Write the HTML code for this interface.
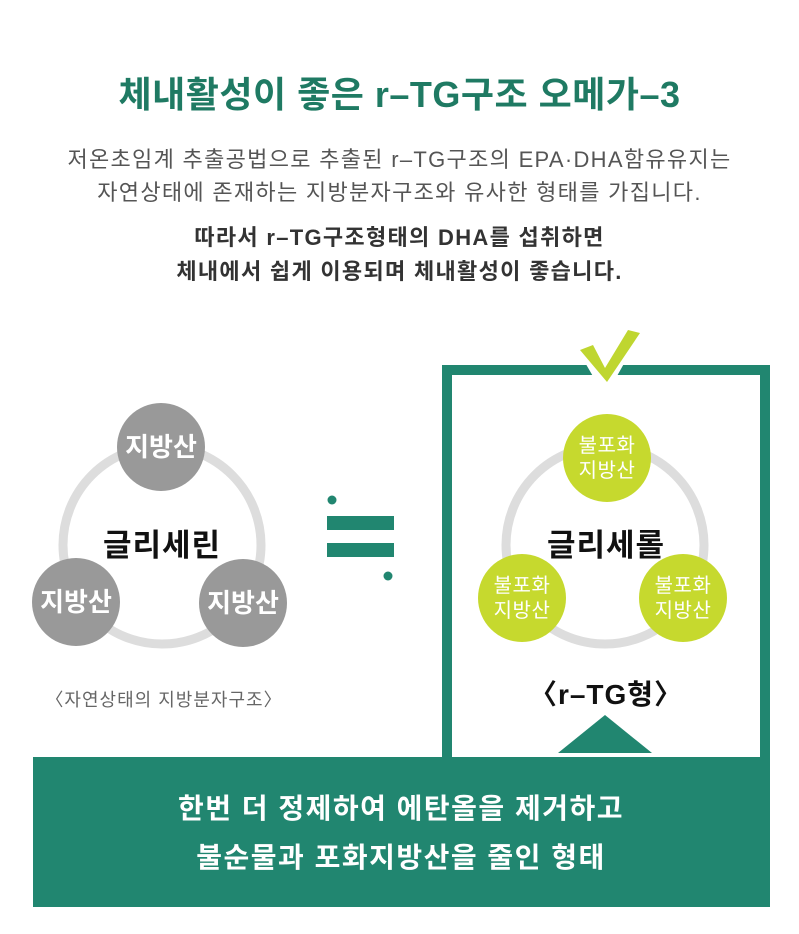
<!DOCTYPE html>
<html><head><meta charset="utf-8"><style>
body{margin:0;width:799px;height:934px;background:#fff;position:relative;overflow:hidden;font-family:"Liberation Sans","Noto Sans CJK KR",sans-serif}
.t{position:absolute;left:0;width:799px;text-align:center;white-space:nowrap}
</style></head><body>
<div class="t" style="top:66px;font-size:36px;font-weight:bold;color:#1f7a63;letter-spacing:0.5px">체내활성이 좋은 r–TG구조 오메가–3</div>
<div class="t" style="top:142px;font-size:22px;color:#555;letter-spacing:1.3px">저온초임계 추출공법으로 추출된 r–TG구조의 EPA·DHA함유유지는</div>
<div class="t" style="top:175px;font-size:22px;color:#555;letter-spacing:1.3px">자연상태에 존재하는 지방분자구조와 유사한 형태를 가집니다.</div>
<div class="t" style="top:220px;font-size:22px;color:#333;font-weight:bold;letter-spacing:1.3px">따라서 r–TG구조형태의 DHA를 섭취하면</div>
<div class="t" style="top:254px;font-size:22px;color:#333;font-weight:bold;letter-spacing:1.3px">체내에서 쉽게 이용되며 체내활성이 좋습니다.</div>
<svg width="799" height="934" style="position:absolute;left:0;top:0" font-family="Liberation Sans, Noto Sans CJK KR, sans-serif">
<circle cx="162" cy="545" r="99" fill="none" stroke="#ddd" stroke-width="9"/>
<circle cx="161" cy="447" r="44" fill="#999"/>
<circle cx="76" cy="602" r="44" fill="#999"/>
<circle cx="243" cy="603" r="44" fill="#999"/>
<g font-size="26" font-weight="bold" fill="#fff" text-anchor="middle">
<text x="161" y="456">지방산</text><text x="76" y="611">지방산</text><text x="243" y="612">지방산</text></g>
<text x="162" y="556" font-size="31" font-weight="bold" text-anchor="middle" fill="#111" letter-spacing="1">글리세린</text>
<text x="164" y="706" font-size="18" text-anchor="middle" fill="#666" letter-spacing="1">〈자연상태의 지방분자구조〉</text>
<circle cx="332" cy="500" r="4.5" fill="#218670"/><circle cx="388" cy="576" r="4.5" fill="#218670"/>
<rect x="327" y="516" width="67" height="14" fill="#218670"/><rect x="327" y="543" width="67" height="14" fill="#218670"/>
<rect x="442" y="365" width="328" height="400" fill="#218670"/>
<rect x="452" y="375" width="308" height="390" fill="#fff"/>
<path d="M572 340 L590 340 L605 365 L625 326 L645 326 L612 385 L598 385 Z" fill="#fff"/>
<path d="M580 350 L593 345 L605 368 L628 330 L640 333 L607 382 Z" fill="#bfd630"/>
<circle cx="605" cy="545" r="99" fill="none" stroke="#ddd" stroke-width="9"/>
<circle cx="607" cy="458" r="44" fill="#c6d92e"/>
<circle cx="522" cy="598" r="44" fill="#c6d92e"/>
<circle cx="683" cy="598" r="44" fill="#c6d92e"/>
<g font-size="20" fill="#fff" text-anchor="middle" letter-spacing="0.5">
<text x="607" y="452">불포화</text><text x="607" y="477">지방산</text>
<text x="522" y="592">불포화</text><text x="522" y="617">지방산</text>
<text x="683" y="592">불포화</text><text x="683" y="617">지방산</text></g>
<text x="606" y="556" font-size="31" font-weight="bold" text-anchor="middle" fill="#111" letter-spacing="1">글리세롤</text>
<text x="606" y="704" font-size="28" font-weight="bold" text-anchor="middle" fill="#111" letter-spacing="1">〈r–TG형〉</text>
<rect x="33" y="757" width="737" height="150" fill="#218670"/>
<path d="M558 753 L605 715 L652 753 Z" fill="#218670"/>
<g font-size="28" font-weight="bold" fill="#fff" text-anchor="middle" letter-spacing="1.5">
<text x="401" y="818">한번 더 정제하여 에탄올을 제거하고</text>
<text x="401" y="867">불순물과 포화지방산을 줄인 형태</text></g>
</svg>
</body></html>
